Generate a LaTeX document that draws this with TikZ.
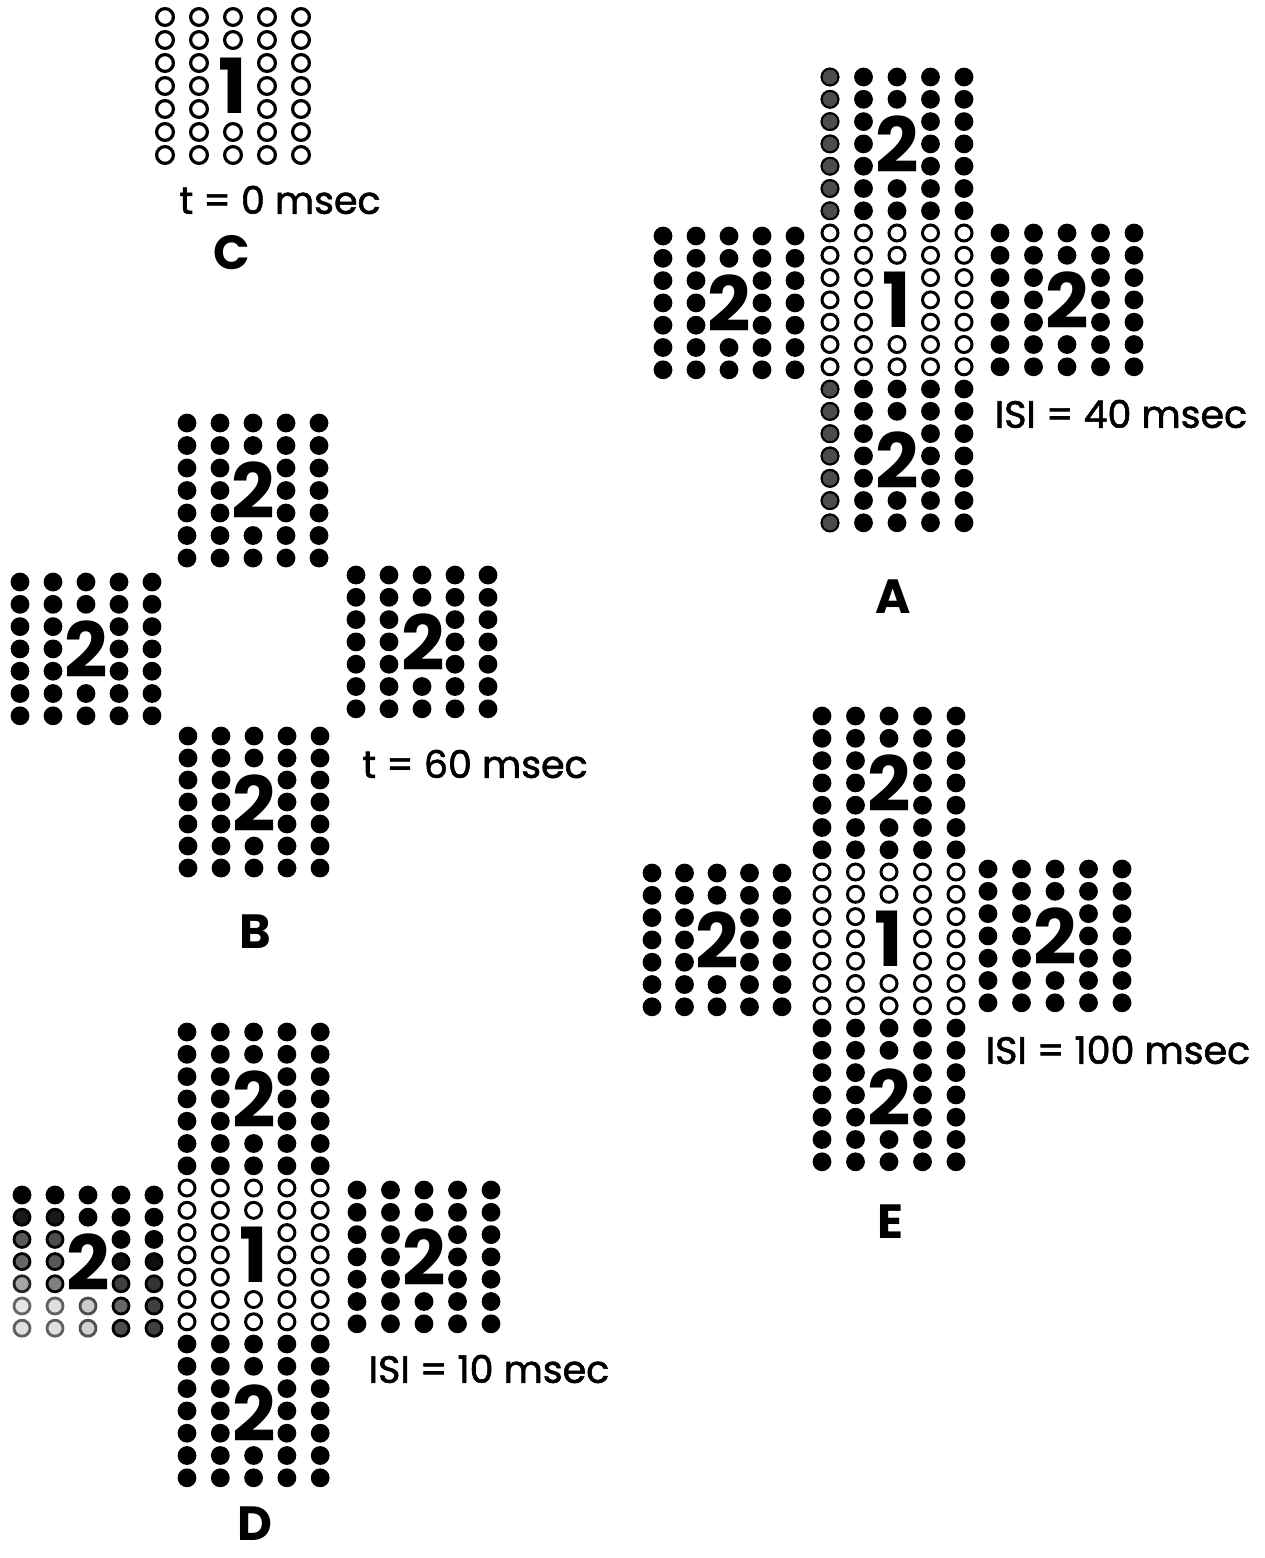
\documentclass[tikz,border=0pt]{standalone}
\usepackage{fontspec}
\setmainfont{Poppins}
\newfontfamily\capfont[FakeBold=1.6]{Poppins}
\usetikzlibrary{positioning}

\begin{document}
\begin{tikzpicture}[
  x=1pt, y=-1pt,
  fulldot/.style={fill=black, radius=9.4pt},
  opendot/.style={draw=black, line width=3pt, radius=8pt},
  bigring/.style={draw=black, line width=3.2pt, radius=8.4pt},
  fadedot/.style={fill=black!70, draw=black, line width=2pt, radius=8.4pt},
  digit/.style={font=\fontsize{76}{76}\selectfont\bfseries, inner sep=0pt},
  caption/.style={font=\fontsize{38}{38}\selectfont\capfont, inner sep=0pt},
  panel/.style={font=\fontsize{48}{48}\selectfont\bfseries, inner sep=0pt},
]
\useasboundingbox (0,0) rectangle (1265,1558);

% 5x7 blocks: first dot / column step / row step / kind
\foreach \bx/\by/\dx/\dy/\kind in {
    165/17/34/23/bigring,
    830/77/33.5/22.3/fulldot, 830/233/33.5/22.3/opendot, 830/389/33.5/22.3/fulldot,
    663/236/33/22.3/fulldot, 1000/233/33.5/22.3/fulldot,
    187/423/33/22.5/fulldot, 20/582/33/22.3/fulldot,
    356/575/33/22.3/fulldot, 188/736/33/22/fulldot,
    187/1032/33.3/22.3/fulldot, 187/1188/33.3/22.3/opendot, 187/1344/33.3/22.3/fulldot,
    357/1190/33.5/22.3/fulldot,
    822/716/33.5/22.3/fulldot, 822/872/33.5/22.3/opendot, 822/1028/33.5/22.3/fulldot,
    652/873/32.5/22.3/fulldot, 988/869/33.5/22.3/fulldot}
  \foreach \c in {0,...,4}
    \foreach \r in {0,...,6} {
      \pgfmathtruncatemacro{\gap}{(\c==2)&&(\r>1)&&(\r<5)}
      \ifnum\gap=0
        \path[\kind] (\bx+\c*\dx, \by+\r*\dy) circle;
      \fi
    }

% A: greyish first column
\foreach \r in {0,...,6,14,15,...,20}
  \path[fadedot] (830, 77+\r*22.3) circle;

% D: left block fading out
\foreach \r/\ga/\gb/\gc/\gd/\ge in {0/100/100/100/100/100, 1/90/90/100/100/100,
    2/65/70/-1/100/100, 3/60/65/-1/95/95, 4/35/50/-1/75/80,
    5/10/12/20/60/75, 6/12/12/18/70/75}
  \foreach \c/\g in {0/\ga, 1/\gb, 2/\gc, 3/\gd, 4/\ge} {
    \pgfmathtruncatemacro{\lev}{\g}
    \pgfmathtruncatemacro{\edge}{min(100,\lev+50)}
    \ifnum\lev<0 \else
      \path[fill=black!\lev, draw=black!\edge, line width=2.8pt, radius=8pt]
        (22+\c*33, 1195+\r*22.2) circle;
    \fi
  }

% numerals
\node[digit] (oneC) at (233,86) {1};
\node[digit] (twoAtop) at (897,144) {2};
\node[digit] (oneA) at (897,300) {1};
\node[digit] (twoAbot) at (897,460) {2};
\node[digit] (twoAleft) at (729,303) {2};
\node[digit] (twoAright) at (1067,300) {2};
\node[digit] (twoBtop) at (253,490) {2};
\node[digit] (twoBleft) at (86,649) {2};
\node[digit] (twoBright) at (423,642) {2};
\node[digit] (twoBbot) at (254,803) {2};
\node[digit] (twoDtop) at (254,1099) {2};
\node[digit] (oneD) at (254,1255) {1};
\node[digit] (twoDbot) at (254,1413) {2};
\node[digit] (twoDleft) at (88,1262) {2};
\node[digit] (twoDright) at (424,1257) {2};
\node[digit] (twoEtop) at (889,783) {2};
\node[digit] (oneE) at (889,939) {1};
\node[digit] (twoEbot) at (889,1097) {2};
\node[digit] (twoEleft) at (717,940) {2};
\node[digit] (twoEright) at (1055,936) {2};

% captions and panel letters
\node[caption] (capC) at (280,200) {t = 0 msec};
\node[panel] (labC) at (232,253) {C};
\node[caption] (capA) at (1121,414) {ISI = 40 msec};
\node[panel] (labA) at (893,597) {A};
\node[caption] (capB) at (475,764) {t = 60 msec};
\node[panel] (labB) at (255,932) {B};
\node[caption] (capD) at (489,1369) {ISI = 10 msec};
\node[panel] (labD) at (255,1524) {D};
\node[caption] (capE) at (1118,1050) {ISI = 100 msec};
\node[panel] (labE) at (890,1222) {E};
\end{tikzpicture}
\end{document}
